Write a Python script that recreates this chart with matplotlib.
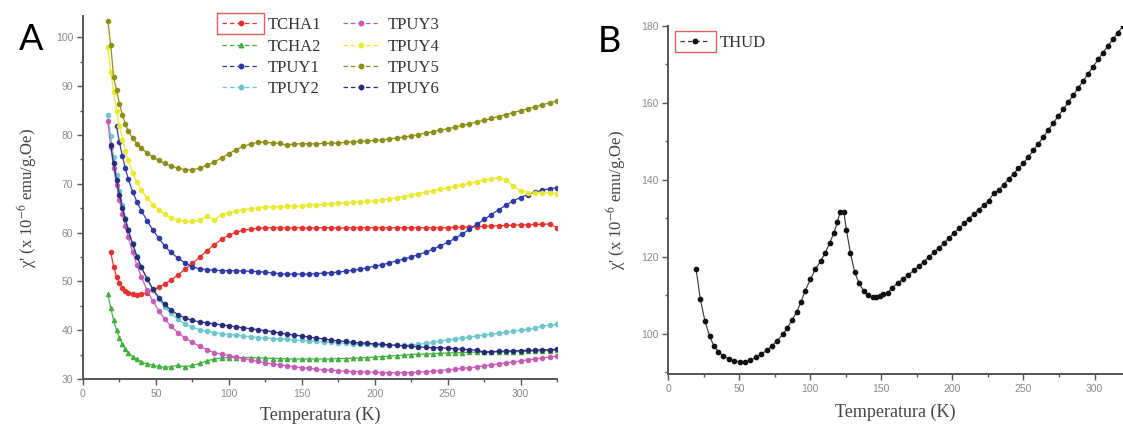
import matplotlib
matplotlib.use("Agg")
import matplotlib.pyplot as plt
import numpy as np
from matplotlib.lines import Line2D
from matplotlib.patches import Rectangle
from matplotlib.ticker import MultipleLocator

plt.rcParams['font.family'] = ['Liberation Serif', 'DejaVu Serif']
plt.rcParams['mathtext.fontset'] = 'stix'

# ---- panel A: temperature grid (K) and susceptibility of each sample ----
temp_a = [17, 19, 21, 23, 25, 27, 29, 31, 34, 37, 40, 44, 48, 52, 56,
          60, 65, 70, 75, 80, 85, 90, 95, 100, 105, 110, 115, 120, 125, 130,
          135, 140, 145, 150, 155, 160, 165, 170, 175, 180, 185, 190, 195, 200,
          205, 210, 215, 220, 225, 230, 235, 240, 245, 250, 255, 260, 265, 270,
          275, 280, 285, 290, 295, 300, 305, 310, 315, 320, 325]

tcha1 = [None, 56.0, 53.0, 51.0, 49.6, 48.7, 48.1, 47.7, 47.4, 47.3, 47.4, 47.7, 48.2, 48.8, 49.5,
         50.2, 51.3, 52.5, 53.7, 55.0, 56.3, 57.5, 58.6, 59.5, 60.1, 60.5, 60.7, 60.9, 61.0, 61.0,
         61.0, 60.9, 61.0, 61.0, 60.9, 61.0, 61.0, 61.0, 60.9, 61.0, 61.0, 61.0, 61.0, 61.0,
         61.0, 61.0, 61.0, 61.0, 61.0, 61.0, 61.0, 61.0, 61.0, 61.0, 61.1, 61.1, 61.2, 61.2,
         61.3, 61.4, 61.4, 61.5, 61.5, 61.6, 61.6, 61.7, 61.7, 61.8, 61.0]

tcha2 = [47.5, 44.6, 42.0, 40.0, 38.5, 37.2, 36.2, 35.4, 34.6, 34.0, 33.5, 33.1, 32.8, 32.6, 32.4,
         32.5, 32.8, 32.5, 32.8, 33.2, 33.7, 34.1, 34.3, 34.4, 34.4, 34.4, 34.4, 34.3, 34.3, 34.2,
         34.2, 34.1, 34.1, 34.1, 34.1, 34.1, 34.1, 34.1, 34.2, 34.2, 34.3, 34.3, 34.4, 34.5,
         34.6, 34.7, 34.8, 34.9, 35.0, 35.1, 35.1, 35.2, 35.3, 35.3, 35.4, 35.4, 35.5, 35.5,
         35.5, 35.5, 35.5, 35.6, 35.6, 35.6, 35.7, 35.7, 35.8, 35.8, 35.9]

tpuy1 = [None, None, None, 81.8, 78.5, 75.7, 73.2, 71.0, 68.4, 66.3, 64.5, 62.4, 60.5, 58.8, 57.3,
         56.0, 54.8, 53.8, 53.0, 52.6, 52.4, 52.3, 52.2, 52.2, 52.2, 52.1, 52.1, 52.0, 51.9, 51.7,
         51.6, 51.5, 51.5, 51.5, 51.5, 51.6, 51.7, 51.8, 51.9, 52.1, 52.3, 52.5, 52.8, 53.1,
         53.4, 53.8, 54.2, 54.6, 55.0, 55.5, 56.0, 56.6, 57.3, 58.0, 58.8, 59.7, 60.7, 61.7,
         62.7, 63.7, 64.7, 65.6, 66.5, 67.2, 67.8, 68.3, 68.7, 69.0, 69.2]

tpuy2 = [84.2, 79.8, 75.5, 71.8, 68.6, 65.7, 63.1, 60.8, 57.8, 55.2, 53.0, 50.4, 48.2, 46.4, 44.8,
         43.5, 42.2, 41.3, 40.6, 40.1, 39.8, 39.5, 39.3, 39.1, 39.0, 38.8, 38.7, 38.5, 38.4, 38.3,
         38.2, 38.1, 38.0, 37.9, 37.8, 37.7, 37.6, 37.5, 37.4, 37.3, 37.2, 37.1, 37.1, 37.0,
         37.0, 36.9, 36.9, 36.9, 37.0, 37.1, 37.3, 37.5, 37.8, 38.0, 38.2, 38.4, 38.6, 38.8,
         39.0, 39.2, 39.4, 39.6, 39.8, 40.0, 40.2, 40.4, 40.9, 41.0, 41.2]

tpuy3 = [82.9, 77.5, 73.3, 69.8, 66.7, 63.9, 61.4, 59.1, 56.0, 53.3, 50.9, 48.2, 45.9, 44.0, 42.3,
         40.9, 39.5, 38.4, 37.5, 36.7, 36.0, 35.4, 35.1, 34.8, 34.5, 34.2, 33.9, 33.6, 33.3, 33.1,
         32.9, 32.7, 32.5, 32.3, 32.2, 32.0, 31.9, 31.8, 31.7, 31.6, 31.5, 31.5, 31.4, 31.4,
         31.3, 31.3, 31.3, 31.3, 31.3, 31.4, 31.5, 31.6, 31.7, 31.9, 32.0, 32.2, 32.3, 32.5,
         32.7, 32.9, 33.1, 33.3, 33.5, 33.7, 33.9, 34.1, 34.3, 34.5, 34.7]

tpuy4 = [98.0, 93.0, 88.8, 85.0, 81.8, 79.0, 76.8, 74.8, 72.3, 70.3, 68.7, 67.0, 65.7, 64.7, 63.8,
         63.1, 62.6, 62.3, 62.3, 62.5, 63.4, 62.6, 63.7, 64.1, 64.4, 64.7, 64.9, 65.1, 65.2, 65.3,
         65.3, 65.4, 65.4, 65.5, 65.6, 65.7, 65.8, 65.9, 66.0, 66.1, 66.2, 66.3, 66.4, 66.5,
         66.7, 66.9, 67.1, 67.4, 67.7, 68.0, 68.3, 68.6, 68.9, 69.2, 69.5, 69.8, 70.1, 70.4,
         70.7, 71.0, 71.2, 70.8, 69.6, 68.6, 68.2, 68.1, 68.1, 68.2, 68.0]

tpuy5 = [103.4, 98.5, 91.8, 89.2, 86.4, 84.2, 82.3, 80.8, 79.3, 78.2, 77.3, 76.3, 75.5, 74.8, 74.2,
         73.7, 73.2, 72.9, 72.9, 73.2, 73.8, 74.5, 75.3, 76.2, 77.0, 77.7, 78.2, 78.5, 78.5, 78.4,
         78.3, 77.9, 78.2, 78.2, 78.2, 78.2, 78.3, 78.3, 78.4, 78.5, 78.6, 78.7, 78.8, 78.9,
         79.0, 79.2, 79.4, 79.6, 79.8, 80.1, 80.4, 80.7, 81.0, 81.3, 81.6, 82.0, 82.3, 82.7,
         83.0, 83.4, 83.8, 84.2, 84.6, 85.0, 85.4, 85.8, 86.2, 86.6, 87.0]

tpuy6 = [None, 77.9, 74.2, 70.8, 67.8, 65.1, 62.7, 60.5, 57.6, 55.1, 52.9, 50.5, 48.4, 46.7, 45.3,
         44.2, 43.2, 42.5, 42.0, 41.7, 41.5, 41.3, 41.1, 40.9, 40.7, 40.5, 40.3, 40.1, 39.9, 39.7,
         39.4, 39.2, 39.0, 38.8, 38.6, 38.4, 38.2, 38.0, 37.8, 37.7, 37.5, 37.4, 37.3, 37.2,
         37.1, 37.0, 36.9, 36.8, 36.7, 36.6, 36.5, 36.4, 36.4, 36.3, 36.2, 36.1, 36.0, 35.9,
         35.5, 35.6, 35.7, 35.7, 35.8, 35.8, 35.9, 35.9, 36.0, 36.0, 36.1]

names_a = ["TCHA1", "TCHA2", "TPUY1", "TPUY2", "TPUY3", "TPUY4", "TPUY5", "TPUY6"]
colors_a = ["#e3312e", "#3fae3b", "#2b36a6", "#6cc6cb", "#c35bb4", "#e9e92c", "#8b8d14", "#262a78"]
markers_a = ["o", "^", "o", "o", "o", "o", "o", "o"]

# ---- panel B: THUD ----
temp_b = [19.7, 22.7, 26.0, 29.3, 32.3, 35.4, 39.0, 42.9, 46.7, 50.5, 54.3, 58.0, 62.0, 65.7,
          69.5, 73.2, 77.0, 80.8, 83.8, 87.0, 90.4, 93.4, 96.4, 100.2, 103.5, 107.3, 110.6,
          113.6, 116.7, 119.2, 121.2, 123.7, 125.5, 128.3, 131.3, 134.3, 137.6, 140.9, 143.9,
          146.5, 149.0, 151.5, 154.5, 157.8, 161.6, 165.4, 169.0, 173.0, 176.5, 180.0, 183.5,
          187.0, 190.5, 194.0, 197.5, 201.0, 204.5, 208.0, 211.5, 215.0, 218.5, 222.0, 225.5,
          229.0, 232.5, 236.0, 239.5, 243.0, 246.5, 250.0, 253.5, 257.0, 260.5, 264.0, 267.5,
          271.0, 274.5, 278.0, 281.5, 285.0, 288.5, 292.0, 295.5, 299.0, 302.5, 306.0, 309.5,
          313.0, 316.5, 320.0]
thud = [117.0, 109.1, 103.3, 99.4, 96.9, 95.4, 94.3, 93.5, 93.0, 92.8, 92.8, 93.2, 93.9, 94.7,
        95.8, 96.9, 98.3, 99.9, 101.5, 103.5, 105.6, 108.2, 111.2, 114.2, 116.8, 118.9, 121.0,
        123.6, 126.2, 129.2, 131.8, 131.6, 127.0, 121.0, 116.0, 113.3, 111.1, 110.1, 109.6,
        109.6, 109.9, 110.3, 110.7, 112.0, 113.3, 114.3, 115.4, 116.5, 117.6, 118.8, 120.0,
        121.2, 122.4, 123.6, 124.9, 126.2, 127.4, 128.7, 129.9, 131.1, 132.3, 133.4, 134.6,
        136.5, 137.3, 138.8, 140.2, 141.6, 143.0, 144.4, 146.0, 147.7, 149.4, 151.2, 153.0,
        154.8, 156.6, 158.4, 160.2, 162.0, 163.9, 165.7, 167.6, 169.4, 171.3, 173.1, 174.9,
        176.6, 178.3, 180.0]

W, H = 1123, 428
fig = plt.figure(figsize=(W / 100, H / 100), dpi=100)
axA = fig.add_axes([83 / W, 49 / H, 474 / W, 363 / H])
axB = fig.add_axes([668 / W, 54 / H, 455 / W, 348 / H])


def style_axis(ax):
    for s in ["top", "right"]:
        ax.spines[s].set_visible(False)
    for s in ["left", "bottom"]:
        ax.spines[s].set_color("#555555")
        ax.spines[s].set_linewidth(1.4)
    ax.tick_params(which="major", direction="out", length=4, width=1, color="#555555",
                   labelsize=7.5, labelcolor="#8a8a8a", pad=3)
    ax.tick_params(which="minor", direction="out", length=2.5, width=1, color="#555555")
    for lbl in ax.get_xticklabels() + ax.get_yticklabels():
        lbl.set_fontfamily("Liberation Sans")


# panel A curves
t_a = np.array(temp_a, dtype=float)
series_a = [tcha1, tcha2, tpuy1, tpuy2, tpuy3, tpuy4, tpuy5, tpuy6]
handles = []
for vals, name, c, m in zip(series_a, names_a, colors_a, markers_a):
    y = np.array([np.nan if v is None else v for v in vals], dtype=float)
    axA.plot(t_a, y, color=c, lw=0.9, marker=m, ms=3.0, mec=c, mfc=c, alpha=0.95)
    handles.append(Line2D([], [], color=c, lw=0.9, ls=(0, (3.5, 2.5)), marker=m, ms=3.2,
                          mec=c, mfc=c))

axA.set_xlim(0, 325)
axA.set_ylim(30, 104.4)
axA.xaxis.set_major_locator(MultipleLocator(50))
axA.xaxis.set_minor_locator(MultipleLocator(25))
axA.yaxis.set_major_locator(MultipleLocator(10))
axA.yaxis.set_minor_locator(MultipleLocator(5))
style_axis(axA)
axA.set_xlabel("Temperatura (K)", fontsize=13, color="#444444")
axA.set_ylabel("χ' (x 10$^{-6}$ emu/g.Oe)", fontsize=12, color="#444444")
axA.yaxis.set_label_coords(-0.093, 0.5)
axA.xaxis.set_label_coords(0.5, -0.075)

legA = fig.legend(handles, names_a, ncol=2, loc="upper left",
                  bbox_to_anchor=(214 / W, 1 - 9 / H), bbox_transform=fig.transFigure,
                  frameon=False, fontsize=12, handlelength=2.2, handletextpad=0.5,
                  columnspacing=1.3, labelspacing=0.32, borderpad=0, numpoints=1)
for t in legA.get_texts():
    t.set_color("#333333")

# panel B curve
axB.plot(temp_b, thud, color="#333333", lw=0.8, marker="o", ms=3.1, mec="#111111",
         mfc="#111111")
axB.set_xlim(0, 320)
axB.set_ylim(89.6, 180)
axB.xaxis.set_major_locator(MultipleLocator(50))
axB.xaxis.set_minor_locator(MultipleLocator(25))
axB.yaxis.set_major_locator(MultipleLocator(20))
axB.yaxis.set_minor_locator(MultipleLocator(10))
style_axis(axB)
axB.set_xlabel("Temperatura (K)", fontsize=13, color="#444444")
axB.set_ylabel("χ' (x 10$^{-6}$ emu/g.Oe)", fontsize=12, color="#444444")
axB.yaxis.set_label_coords(-0.088, 0.5)
axB.xaxis.set_label_coords(0.5, -0.085)

hB = Line2D([], [], color="#333333", lw=0.9, ls=(0, (3.5, 2.5)), marker="o", ms=3.2,
            mec="#111111", mfc="#111111")
legB = fig.legend([hB], ["THUD"], loc="upper left", bbox_to_anchor=(672 / W, 1 - 27 / H),
                  bbox_transform=fig.transFigure, frameon=False, fontsize=12,
                  handlelength=1.8, handletextpad=0.55, borderpad=0, numpoints=1)
for t in legB.get_texts():
    t.set_color("#333333")

# red selection boxes around the first legend symbols
fig.canvas.draw()
renderer = fig.canvas.get_renderer()
for leg in (legA, legB):
    bb = leg.legend_handles[0].get_window_extent(renderer)
    x0, x1 = bb.x0 - 3, bb.x1 + 3
    yc = (bb.y0 + bb.y1) / 2
    fig.patches.append(Rectangle((x0 / W, (yc - 10) / H), (x1 - x0) / W, 20 / H,
                                 transform=fig.transFigure, fill=False,
                                 edgecolor="#e06060", lw=1.0, figure=fig))

fig.text(31 / W, 1 - 40 / H, "A", fontsize=26, family="Lato", ha="center", va="center")
fig.text(609 / W, 1 - 41 / H, "B", fontsize=26, family="Lato", ha="center", va="center")

fig.savefig("out.png", dpi=100)
